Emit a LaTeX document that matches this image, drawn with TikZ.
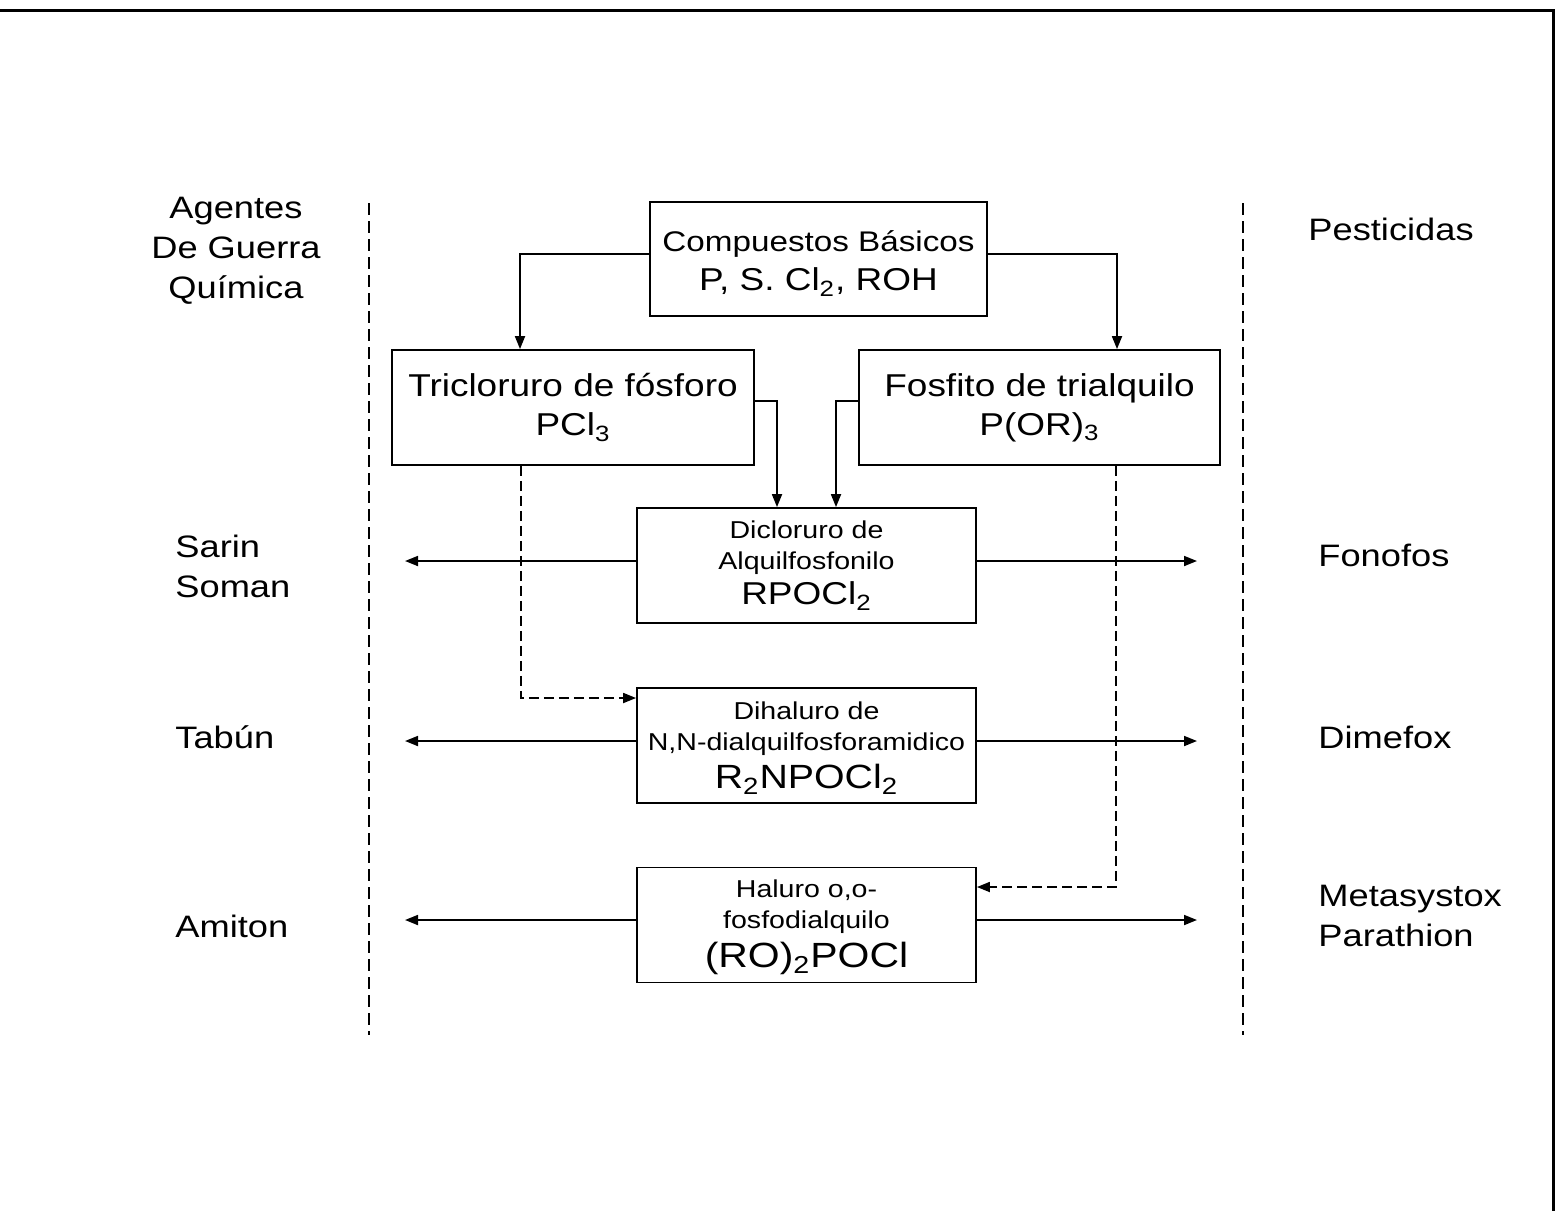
\documentclass[tikz,border=0pt]{standalone}
\usepackage{fontspec}
\setmainfont{Liberation Sans}[FakeStretch=1.17]
\usetikzlibrary{arrows.meta}
\newcommand\myS{\fontsize{12.2}{15.5}\selectfont}
\newcommand\myM{\fontsize{14.2}{19.5}\selectfont}
\newcommand\myL{\fontsize{15.8}{19.5}\selectfont}
\begin{document}
\begin{tikzpicture}[x=0.5pt,y=-0.5pt,
  box/.style={draw, line width=0.9pt, inner sep=0pt, align=center},
  wbox/.style={box, minimum width=169.5pt, minimum height=57.5pt},
  arr/.style={line width=0.9pt, -{Triangle[length=6.5pt,width=5pt]}},
  dsh/.style={arr, dash pattern=on 5pt off 2.5pt},
  divider/.style={line width=0.6pt, dash pattern=on 6pt off 3pt},
  lbl/.style={inner sep=0pt, font=\fontsize{15.5}{20}\selectfont}]
\useasboundingbox (0,0) rectangle (1562,1211);
\draw[line width=1.5pt] (0,10) -- (1553,10) -- (1553,1211);
\draw[divider] (369,203) -- (369,1035);
\draw[divider] (1243,203) -- (1243,1035);

% side labels
\node[lbl, align=center] (agentes) at (236,251) {Agentes\\De Guerra\\Química};
\node[lbl, anchor=west] (pest) at (1308,229) {Pesticidas};
\node[lbl, anchor=west, align=left] (sarin) at (175,566) {Sarin\\Soman};
\node[lbl, anchor=west] (tabun) at (175,737) {Tabún};
\node[lbl, anchor=west] (amiton) at (175,926) {Amiton};
\node[lbl, anchor=west] (fonofos) at (1318,555) {Fonofos};
\node[lbl, anchor=west] (dimefox) at (1318,737) {Dimefox};
\node[lbl, anchor=west, align=left] (metasys) at (1318,916) {Metasystox\\Parathion};

% boxes
\node[box, font=\myL, minimum width=168.5pt, minimum height=57pt] (b1) at (818.5,259)
  {{\myM\rule{0pt}{14.8pt}Compuestos Básicos}\\P, S. Cl\textsubscript{2}, ROH};
\node[box, font=\myL, minimum width=181pt, minimum height=57.5pt] (b2) at (573,407.5)
  {Tricloruro de fósforo\\PCl\textsubscript{3}};
\node[box, font=\myL, minimum width=180.5pt, minimum height=57.5pt] (b3) at (1039.5,407.5)
  {Fosfito de trialquilo\\P(OR)\textsubscript{3}};
\node[wbox, font=\myS] (b4) at (806.5,565.5)
  {Dicloruro de\\Alquilfosfonilo\\[2pt]{\myL RPOCl\textsubscript{2}}};
\node[wbox, font=\myS] (b5) at (806.5,745.5)
  {\rule{0pt}{11.5pt}Dihaluro de\\N,N-dialquilfosforamidico\\[3.5pt]{\fontsize{16.8}{19.5}\selectfont R\textsubscript{2}NPOCl\textsubscript{2}}};
\node[wbox, font=\myS] (b6) at (806.5,925)
  {\rule{0pt}{11.5pt}Haluro o,o-\\fosfodialquilo\\[4pt]{\fontsize{17.5}{19.5}\selectfont (RO)\textsubscript{2}POCl}};

% end points of the side arrows
\coordinate (l4) at (405,561);
\coordinate (r4) at (1197,561);
\coordinate (l5) at (405,741);
\coordinate (r5) at (1197,741);
\coordinate (l6) at (405,920);
\coordinate (r6) at (1197,920);

% connectors
\draw[arr] ([yshift=2.5pt]b1.west) -| ([xshift=-26.5pt]b2.north);
\draw[arr] ([yshift=2.5pt]b1.east) -| ([xshift=38.75pt]b3.north);
\draw[arr] ([yshift=3.25pt]b2.east) -| ([xshift=-14.75pt]b4.north);
\draw[arr] ([yshift=3.25pt]b3.west) -| ([xshift=14.75pt]b4.north);
\draw[dsh] ([xshift=-26pt]b2.south) |- ([yshift=23.75pt]b5.west);
\draw[dsh] ([xshift=38.25pt]b3.south) |- ([yshift=19pt]b6.east);

\draw[arr] ([yshift=2.25pt]b4.west) -- (l4);
\draw[arr] ([yshift=2.25pt]b4.east) -- (r4);
\draw[arr] ([yshift=2.25pt]b5.west) -- (l5);
\draw[arr] ([yshift=2.25pt]b5.east) -- (r5);
\draw[arr] ([yshift=2.5pt]b6.west) -- (l6);
\draw[arr] ([yshift=2.5pt]b6.east) -- (r6);
\end{tikzpicture}
\end{document}
